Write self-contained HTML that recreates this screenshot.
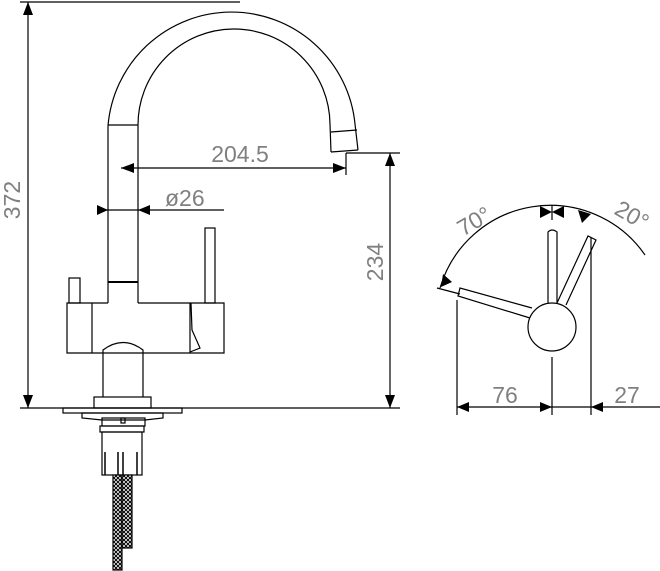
<!DOCTYPE html>
<html><head><style>body{margin:0;background:#fff}svg{display:block}text{font-family:"Liberation Sans",sans-serif;fill:#808080}</style></head><body>
<svg width="660" height="571" viewBox="0 0 660 571" xmlns="http://www.w3.org/2000/svg">
<defs><pattern id="h" width="4" height="4" patternUnits="userSpaceOnUse"><rect width="4" height="4" fill="#fff"/><path d="M0 0L4 4M4 0L0 4" stroke="#000" stroke-width="1"/></pattern></defs>
<g fill="none" stroke="#000" stroke-width="1.2">
<!-- spout -->
<path d="M108 303 V126 A124 124 0 0 1 355 124 L358 150"/>
<path d="M138 303 V126 A96 96 0 0 1 330 124 L331 152"/>
<path d="M331 132 L357 130 M331 152 L358 150"/>
<line x1="108" y1="125" x2="138" y2="125"/>
<line x1="108" y1="282" x2="138" y2="282" stroke-width="2"/>
<!-- right lever -->
<rect x="205" y="228" width="10" height="75"/>
<!-- body -->
<rect x="69" y="278" width="11" height="25"/>
<path d="M108 303 H67 V353 H224 V303 H138"/>
<line x1="92" y1="303" x2="92" y2="353"/>
<path d="M190 303 V353 M191 303 L192 330 L200 348 L190 352"/>
<path d="M103 397 V350 Q123 335 143 350 V397"/>
<rect x="94" y="397" width="57" height="11"/>
<rect x="63" y="408" width="119" height="5"/>
<path d="M82 413 H163 V418 L145 420 H102 L82 418 Z"/>
<rect x="102" y="418" width="43" height="8"/>
<rect x="121" y="418" width="4" height="5"/>
<rect x="100" y="426" width="44" height="6"/>
<rect x="102" y="432" width="40" height="43"/>
<path d="M105 452 V475 M118 452 V475 M123 452 V475 M137 452 V475" stroke-width="1.5"/>
<rect x="113" y="475" width="9" height="95" fill="url(#h)"/>
<rect x="122" y="475" width="10" height="73" fill="url(#h)"/>
<!-- dims left -->
<line x1="20" y1="408" x2="400" y2="408"/>
<line x1="20" y1="2" x2="240" y2="2"/>
<line x1="28" y1="2" x2="28" y2="408"/>
<line x1="121" y1="168" x2="346" y2="168"/>
<line x1="346" y1="153" x2="346" y2="175"/>
<line x1="97" y1="210" x2="224" y2="210"/>
<line x1="346" y1="153" x2="400" y2="153"/>
<line x1="390" y1="153" x2="390" y2="408"/>
<!-- right view -->
<circle cx="552" cy="327" r="24"/>
<path d="M548 303 V232 Q552 228 557 232 V303"/>
<path d="M557 303 L588 236 L596 240 L566 305"/>
<path d="M530 318 L458 296 L460 288 L532 308"/>
<path d="M440 288 A115 115 0 0 1 645 255"/>
<line x1="552" y1="205" x2="552" y2="220"/>
<line x1="437" y1="288" x2="460" y2="294"/>
<line x1="457" y1="300" x2="457" y2="415"/>
<line x1="552" y1="357" x2="552" y2="415"/>
<line x1="591" y1="237" x2="591" y2="415"/>
<line x1="457" y1="407" x2="660" y2="407"/>
</g>
<g fill="#000">
<path d="M28 2 L23 15 L33 15 Z M28 408 L23 395 L33 395 Z"/>
<path d="M121 168 L134 163 L134 173 Z M346 168 L333 163 L333 173 Z"/>
<path d="M108 210 L97 205 L97 215 Z M138 210 L150 205 L150 215 Z"/>
<path d="M390 153 L385 166 L395 166 Z M390 408 L385 395 L395 395 Z"/>
<path d="M552 212 L540 206 L540 218 Z M552 212 L564 206 L564 218 Z"/>
<path d="M591 214 L578 210 L582 223 Z"/>
<path d="M441 287 L443 274 L452 282 Z"/>
<path d="M457 407 L469 402 L469 412 Z M552 407 L540 402 L540 412 Z M591 407 L603 402 L603 412 Z"/>
</g>
<g font-size="23">
<text x="240" y="162" text-anchor="middle">204.5</text>
<text x="165" y="206">ø26</text>
<text transform="translate(20,200) rotate(-90)" text-anchor="middle">372</text>
<text transform="translate(383,262) rotate(-90)" text-anchor="middle">234</text>
<text x="505" y="403" text-anchor="middle">76</text>
<text x="627" y="403" text-anchor="middle">27</text>
<text transform="translate(478,228) rotate(-30)" text-anchor="middle">70°</text>
<text transform="translate(628,222) rotate(30)" text-anchor="middle">20°</text>
</g>
</svg>
</body></html>
